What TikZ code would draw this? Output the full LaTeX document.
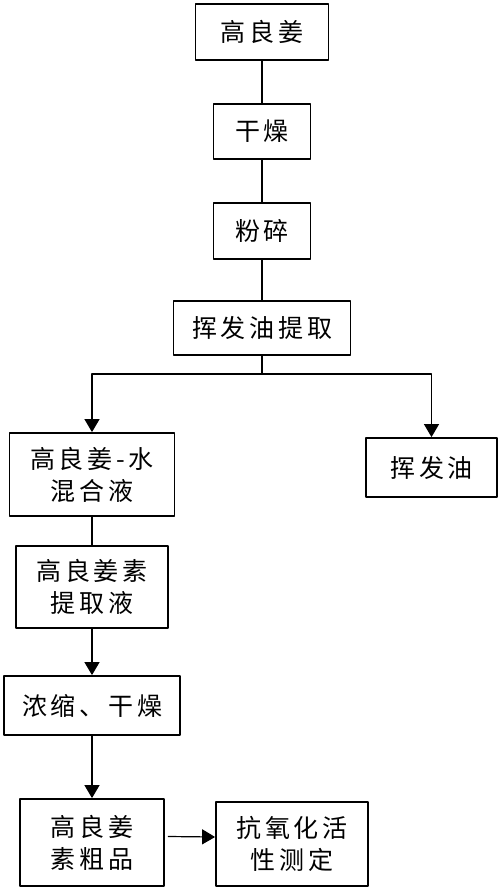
\documentclass[tikz,border=0pt]{standalone}
\usepackage{fontspec}
\setmainfont{Liberation Sans}
\newfontfamily\cjk[LetterSpace=15]{Noto Sans CJK SC}
\usetikzlibrary{arrows.meta}

\begin{document}
\begin{tikzpicture}[x=1pt, y=-1pt, line join=round, >={Triangle[width=15pt,length=13pt]},
		box/.style={draw, line width=1.8pt, inner sep=0pt, align=center, font=\cjk\fontsize{25}{32}\selectfont},
		link/.style={line width=1.2pt}]
	\useasboundingbox (0,0) rectangle (500,890);
	\node[box, minimum width=133pt, minimum height=56pt] (gao) at (262,32) {高良姜};
	\node[box, minimum width=97pt, minimum height=55pt] (ganzao) at (262,131.5) {干燥};
	\node[box, minimum width=97pt, minimum height=56pt] (fensui) at (262,231) {粉碎};
	\node[box, minimum width=177pt, minimum height=54pt] (tiqu) at (262,328) {挥发油提取};
	\node[box, minimum width=165pt, minimum height=83pt] (hunhe) at (92,474.5) {高良姜-水\\混合液};
	\node[box, minimum width=131pt, minimum height=59pt] (youye) at (431.5,467.5) {挥发油};
	\node[box, minimum width=152pt, minimum height=82pt] (tiquye) at (92,587) {高良姜素\\提取液};
	\node[box, minimum width=176pt, minimum height=59pt] (nongsuo) at (92,705.5) {浓缩、干燥};
	\node[box, minimum width=144pt, minimum height=87pt] (cupin) at (92,842.5) {高良姜\\素粗品};
	\node[box, minimum width=152pt, minimum height=84pt] (kangyang) at (292,844) {抗氧化活\\性测定};
	\coordinate (split) at (262,374);
	\draw[link] (gao) -- (ganzao);
	\draw[link] (ganzao) -- (fensui);
	\draw[link] (fensui) -- (tiqu);
	\draw[link,->] (tiqu.south) -- (split) -| (hunhe.north);
	\draw[link,->] (split) -| (youye.north);
	\draw[link] (hunhe) -- (tiquye);
	\draw[link,->] (tiquye) -- (nongsuo);
	\draw[link,->] (nongsuo) -- (cupin);
	\draw[link,->] ([yshift=6pt,xshift=3pt]cupin.east) -- ([yshift=7pt]kangyang.west);
\end{tikzpicture}
\end{document}
